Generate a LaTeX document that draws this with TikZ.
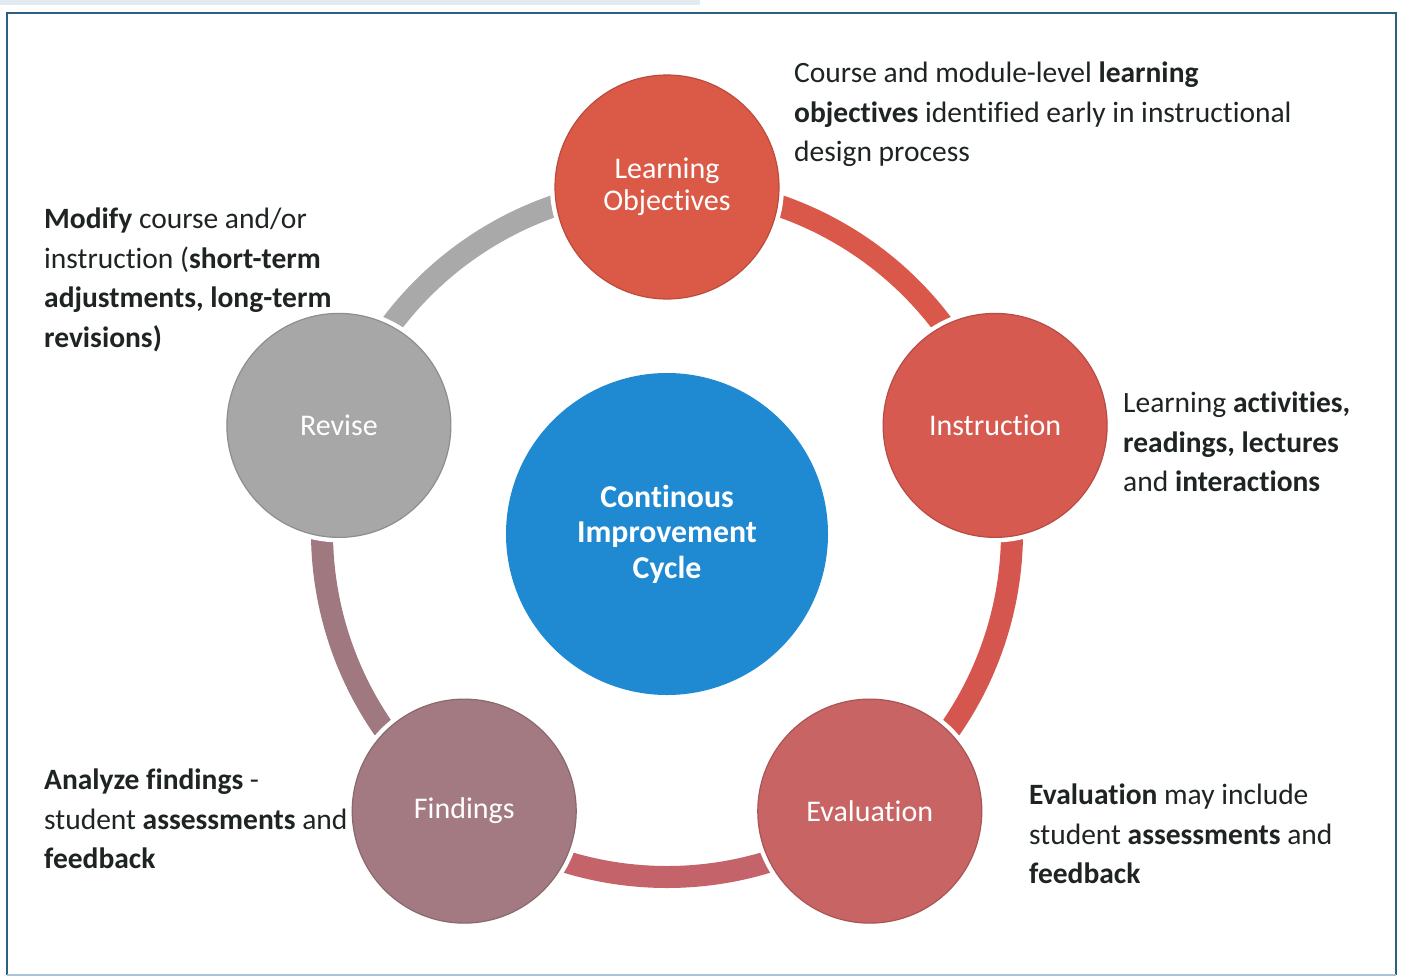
\documentclass[tikz,border=0pt]{standalone}
\usepackage{fontspec}
\setmainfont{Carlito}[Ligatures={NoCommon}]
\usetikzlibrary{calc}

\definecolor{txt}{HTML}{1E2422}
\definecolor{frameblue}{HTML}{2D5F7E}
\definecolor{framelight}{HTML}{A9C2D6}
\definecolor{centerblue}{HTML}{1F8AD2}
\definecolor{objred}{HTML}{DB5A47}
\definecolor{insred}{HTML}{D75A50}
\definecolor{evalred}{HTML}{C86464}
\definecolor{findmauve}{HTML}{A37A81}
\definecolor{revgray}{HTML}{A7A7A7}
\definecolor{arcA}{HTML}{D9584A}
\definecolor{arcB}{HTML}{D5564E}
\definecolor{arcC}{HTML}{C4646A}
\definecolor{arcD}{HTML}{A07980}
\definecolor{arcE}{HTML}{A9A9A9}

\tikzset{
  stage/.style={circle, minimum size=224pt, inner sep=0pt, align=center,
    text=white, font=\fontsize{30}{32}\selectfont,
    preaction={draw=white, line width=10pt}, line width=1.2pt},
  hub/.style={circle, minimum size=322pt, inner sep=0pt, align=center,
    fill=centerblue, text=white, font=\bfseries\fontsize{31.8}{35.5}\selectfont},
  ring/.style={line width=22pt},
  note/.style={anchor=north west, inner sep=0pt, align=left, text=txt,
    font=\fontsize{29.5}{39.5}\selectfont}
}

\begin{document}
\begin{tikzpicture}[x=1pt,y=-1pt]
\useasboundingbox (0,0) rectangle (1401,978);
\fill[white] (0,0) rectangle (1401,978);

% outer frame
\fill[framelight!35] (0,0) rectangle (700,5);
\draw[frameblue, line width=2.5pt] (7,975) -- (7,13) -- (1396,13) -- (1396,975);
\draw[framelight, line width=2pt] (7,975) -- (1396,975);

% ring centre
\coordinate (c) at (667,532);

% connecting ring segments
\draw[ring, arcA] ($(c)+(-90:345)$) arc[start angle=-90, end angle=-18, radius=345];
\draw[ring, arcB] ($(c)+(-18:345)$) arc[start angle=-18, end angle=54, radius=345];
\draw[ring, arcC] ($(c)+(54:345)$) arc[start angle=54, end angle=126, radius=345];
\draw[ring, arcD] ($(c)+(126:345)$) arc[start angle=126, end angle=198, radius=345];
\draw[ring, arcE] ($(c)+(198:345)$) arc[start angle=198, end angle=270, radius=345];

% stages
\node[stage, fill=objred, draw=objred!85!black] (obj) at ($(c)+(-90:345)$) {Learning\\Objectives};
\node[stage, fill=insred, draw=insred!85!black] (ins) at ($(c)+(-18:345)$) {Instruction};
\node[stage, fill=evalred, draw=evalred!85!black] (eva) at ($(c)+(54:345)$) {\raisebox{-4pt}{Evaluation}};
\node[stage, fill=findmauve, draw=findmauve!85!black] (fin) at ($(c)+(126:345)$) {Findings};
\node[stage, fill=revgray, draw=revgray!85!black] (rev) at ($(c)+(198:345)$) {Revise};

% hub
\node[hub] (hub) at ($(c)+(0,2)$) {Continous\\Improvement\\Cycle};

% notes
\node[note] (nobj) at (794,62) {Course and module-level \textbf{learning}\\\textbf{objectives} identified early in instructional\\design process};
\node[note] (nins) at (1123,392) {Learning \textbf{activities,}\\\textbf{readings, lectures}\\and \textbf{interactions}};
\node[note] (neva) at (1029,784) {\textbf{Evaluation} may include\\student \textbf{assessments} and\\\textbf{feedback}};
\node[note] (nfin) at (44,769) {\textbf{Analyze findings} -\\student \textbf{assessments} and\\\textbf{feedback}};
\node[note] (nrev) at (44,208) {\textbf{Modify} course and/or\\instruction (\textbf{short-term}\\\textbf{adjustments, long-term}\\\textbf{revisions)}};
\end{tikzpicture}
\end{document}
